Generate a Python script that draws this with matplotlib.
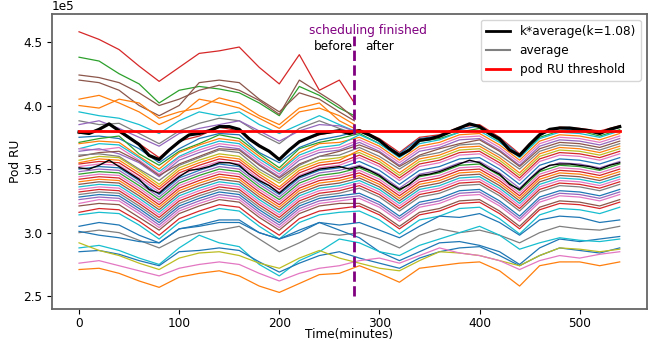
import numpy as np
import matplotlib.pyplot as plt
from matplotlib.lines import Line2D

# time axis (minutes)
t_full = list(range(0, 541, 20))
t_before = list(range(0, 261, 20)) + [275]
t_avg = list(range(0, 541, 10))

# average pod RU (x1e5), read every 10 minutes
average = [3.51, 3.50, 3.53, 3.57, 3.52, 3.47, 3.42, 3.34, 3.31, 3.38,
           3.44, 3.49, 3.50, 3.52, 3.55, 3.55, 3.53, 3.46, 3.41, 3.37,
           3.31, 3.38, 3.44, 3.47, 3.50, 3.51, 3.52, 3.50, 3.52, 3.49,
           3.45, 3.39, 3.34, 3.38, 3.45, 3.46, 3.48, 3.51, 3.54, 3.57,
           3.55, 3.50, 3.46, 3.38, 3.34, 3.42, 3.49, 3.53, 3.54, 3.54,
           3.53, 3.52, 3.50, 3.53, 3.55]
k = 1.08
threshold = 3.8

# pods that stop at the scheduling point (x1e5)
pod_u1 = [4.58, 4.52, 4.44, 4.31, 4.19, 4.30, 4.41, 4.43, 4.46, 4.30, 4.17, 4.40, 4.12, 4.20, 4.02]
pod_u2 = [4.38, 4.35, 4.25, 4.17, 4.02, 4.12, 4.15, 4.13, 4.10, 4.02, 3.92, 4.15, 4.08, 3.98, 3.92]
pod_u3 = [4.24, 4.22, 4.18, 4.10, 4.00, 4.05, 4.12, 4.16, 4.12, 4.04, 3.93, 4.20, 4.10, 4.00, 3.90]
pod_u4 = [4.20, 4.18, 4.12, 4.00, 3.92, 4.00, 4.18, 4.20, 4.18, 4.05, 3.95, 4.10, 4.05, 3.95, 3.88]
pod_u5 = [4.05, 4.08, 4.02, 3.95, 3.85, 3.92, 4.05, 4.02, 3.98, 3.90, 3.82, 3.95, 3.98, 3.92, 3.85]
pod_u6 = [4.00, 3.98, 4.05, 4.02, 3.90, 3.95, 3.98, 4.06, 4.02, 3.92, 3.85, 3.98, 4.02, 3.88, 3.82]
pod_u7 = [3.95, 3.92, 3.90, 3.85, 3.78, 3.88, 3.95, 3.92, 3.95, 3.85, 3.78, 3.85, 3.92, 3.85, 3.80]
pod_u8 = [3.88, 3.85, 3.86, 3.78, 3.70, 3.80, 3.86, 3.90, 3.88, 3.78, 3.70, 3.82, 3.88, 3.82, 3.78]
pod_u9 = [3.85, 3.88, 3.82, 3.75, 3.68, 3.78, 3.82, 3.85, 3.88, 3.80, 3.72, 3.80, 3.85, 3.84, 3.80]
upper_pods = [pod_u1, pod_u2, pod_u3, pod_u4, pod_u5, pod_u6, pod_u7, pod_u8, pod_u9]
upper_colors = ['tab:red', 'tab:green', 'tab:brown', 'tab:brown', 'tab:orange',
                'tab:orange', 'tab:cyan', 'tab:gray', 'tab:purple']

# pods running the whole time (x1e5)
pod_m01 = [3.78, 3.80, 3.79, 3.70, 3.59, 3.72, 3.76, 3.83, 3.80, 3.69, 3.58, 3.72, 3.77, 3.80,
           3.81, 3.74, 3.63, 3.75, 3.77, 3.83, 3.85, 3.75, 3.62, 3.78, 3.83, 3.82, 3.80, 3.84]
pod_m02 = [3.75, 3.76, 3.74, 3.66, 3.55, 3.66, 3.74, 3.78, 3.77, 3.63, 3.55, 3.67, 3.73, 3.76,
           3.80, 3.72, 3.62, 3.74, 3.76, 3.81, 3.84, 3.74, 3.61, 3.77, 3.82, 3.80, 3.78, 3.83]
pod_m03 = [3.71, 3.74, 3.76, 3.62, 3.53, 3.64, 3.70, 3.77, 3.74, 3.62, 3.51, 3.66, 3.71, 3.74,
           3.78, 3.70, 3.60, 3.72, 3.74, 3.79, 3.82, 3.72, 3.60, 3.75, 3.80, 3.80, 3.76, 3.81]
pod_m04 = [3.70, 3.72, 3.71, 3.60, 3.50, 3.63, 3.69, 3.74, 3.72, 3.60, 3.49, 3.63, 3.70, 3.71,
           3.75, 3.68, 3.57, 3.68, 3.71, 3.77, 3.78, 3.69, 3.57, 3.72, 3.77, 3.76, 3.73, 3.78]
pod_m05 = [3.66, 3.70, 3.69, 3.59, 3.48, 3.60, 3.67, 3.72, 3.70, 3.58, 3.48, 3.61, 3.67, 3.69,
           3.77, 3.70, 3.59, 3.70, 3.73, 3.79, 3.80, 3.71, 3.59, 3.74, 3.79, 3.78, 3.75, 3.80]
pod_m06 = [3.66, 3.65, 3.67, 3.57, 3.46, 3.59, 3.65, 3.70, 3.68, 3.56, 3.46, 3.59, 3.65, 3.67,
           3.73, 3.66, 3.55, 3.66, 3.69, 3.75, 3.76, 3.67, 3.55, 3.70, 3.75, 3.74, 3.71, 3.76]
pod_m07 = [3.64, 3.66, 3.62, 3.55, 3.44, 3.57, 3.63, 3.68, 3.66, 3.54, 3.44, 3.57, 3.63, 3.65,
           3.71, 3.64, 3.53, 3.64, 3.67, 3.73, 3.74, 3.65, 3.53, 3.68, 3.73, 3.72, 3.69, 3.74]
pod_m08 = [3.60, 3.63, 3.64, 3.56, 3.45, 3.54, 3.60, 3.66, 3.65, 3.53, 3.43, 3.54, 3.60, 3.64,
           3.69, 3.63, 3.52, 3.61, 3.66, 3.70, 3.73, 3.64, 3.52, 3.66, 3.71, 3.70, 3.67, 3.72]
pod_m09 = [3.61, 3.62, 3.60, 3.50, 3.41, 3.53, 3.59, 3.65, 3.63, 3.50, 3.41, 3.53, 3.60, 3.61,
           3.67, 3.60, 3.50, 3.60, 3.63, 3.69, 3.70, 3.61, 3.50, 3.64, 3.69, 3.68, 3.65, 3.70]
pod_m10 = [3.57, 3.60, 3.59, 3.49, 3.38, 3.51, 3.57, 3.62, 3.60, 3.48, 3.39, 3.51, 3.57, 3.59,
           3.63, 3.56, 3.45, 3.56, 3.59, 3.65, 3.66, 3.57, 3.45, 3.60, 3.65, 3.64, 3.61, 3.66]
pod_m11 = [3.55, 3.58, 3.57, 3.47, 3.36, 3.49, 3.55, 3.60, 3.58, 3.46, 3.36, 3.49, 3.55, 3.57,
           3.65, 3.58, 3.47, 3.58, 3.61, 3.67, 3.68, 3.59, 3.47, 3.62, 3.67, 3.66, 3.63, 3.68]
pod_m12 = [3.54, 3.56, 3.55, 3.45, 3.34, 3.47, 3.53, 3.58, 3.56, 3.44, 3.34, 3.47, 3.53, 3.55,
           3.61, 3.54, 3.43, 3.54, 3.57, 3.63, 3.64, 3.55, 3.43, 3.58, 3.63, 3.62, 3.59, 3.64]
pod_m13 = [3.52, 3.54, 3.53, 3.43, 3.32, 3.45, 3.51, 3.56, 3.54, 3.42, 3.32, 3.45, 3.51, 3.53,
           3.59, 3.52, 3.41, 3.52, 3.55, 3.61, 3.62, 3.53, 3.41, 3.56, 3.61, 3.60, 3.57, 3.62]
pod_m14 = [3.50, 3.52, 3.51, 3.41, 3.30, 3.43, 3.49, 3.54, 3.52, 3.40, 3.30, 3.43, 3.49, 3.51,
           3.56, 3.49, 3.38, 3.49, 3.52, 3.58, 3.59, 3.50, 3.38, 3.53, 3.58, 3.57, 3.54, 3.59]
pod_m15 = [3.48, 3.50, 3.49, 3.39, 3.28, 3.41, 3.47, 3.52, 3.50, 3.38, 3.28, 3.41, 3.47, 3.49,
           3.53, 3.46, 3.35, 3.46, 3.49, 3.55, 3.56, 3.47, 3.35, 3.50, 3.55, 3.54, 3.51, 3.56]
pod_m16 = [3.46, 3.48, 3.47, 3.37, 3.26, 3.39, 3.45, 3.50, 3.48, 3.36, 3.26, 3.39, 3.45, 3.47,
           3.51, 3.44, 3.33, 3.44, 3.47, 3.53, 3.54, 3.45, 3.33, 3.48, 3.53, 3.52, 3.49, 3.54]
pod_m17 = [3.44, 3.46, 3.45, 3.35, 3.24, 3.37, 3.43, 3.48, 3.46, 3.34, 3.24, 3.37, 3.43, 3.45,
           3.49, 3.42, 3.31, 3.42, 3.45, 3.51, 3.52, 3.43, 3.31, 3.46, 3.51, 3.50, 3.47, 3.52]
pod_m18 = [3.42, 3.44, 3.43, 3.33, 3.22, 3.35, 3.41, 3.46, 3.44, 3.32, 3.22, 3.35, 3.41, 3.43,
           3.47, 3.40, 3.29, 3.40, 3.43, 3.49, 3.50, 3.41, 3.29, 3.44, 3.49, 3.48, 3.45, 3.50]
pod_m19 = [3.40, 3.42, 3.41, 3.31, 3.20, 3.33, 3.39, 3.44, 3.42, 3.30, 3.20, 3.33, 3.39, 3.41,
           3.45, 3.38, 3.27, 3.38, 3.41, 3.47, 3.48, 3.39, 3.27, 3.42, 3.47, 3.46, 3.43, 3.48]
pod_m20 = [3.38, 3.40, 3.39, 3.29, 3.18, 3.31, 3.37, 3.42, 3.40, 3.28, 3.18, 3.31, 3.37, 3.39,
           3.43, 3.36, 3.25, 3.36, 3.39, 3.45, 3.46, 3.37, 3.25, 3.40, 3.45, 3.44, 3.41, 3.46]
pod_m21 = [3.36, 3.38, 3.37, 3.27, 3.16, 3.29, 3.35, 3.40, 3.38, 3.26, 3.16, 3.29, 3.35, 3.37,
           3.41, 3.34, 3.23, 3.34, 3.37, 3.43, 3.44, 3.35, 3.23, 3.38, 3.43, 3.42, 3.39, 3.44]
pod_m22 = [3.34, 3.36, 3.35, 3.25, 3.14, 3.27, 3.33, 3.38, 3.36, 3.24, 3.14, 3.27, 3.33, 3.35,
           3.39, 3.32, 3.21, 3.32, 3.35, 3.41, 3.42, 3.33, 3.21, 3.36, 3.41, 3.40, 3.37, 3.42]
pod_m23 = [3.32, 3.34, 3.33, 3.23, 3.12, 3.25, 3.31, 3.36, 3.34, 3.22, 3.12, 3.25, 3.31, 3.33,
           3.37, 3.30, 3.19, 3.30, 3.33, 3.39, 3.40, 3.31, 3.19, 3.34, 3.39, 3.38, 3.35, 3.40]
pod_m24 = [3.30, 3.32, 3.31, 3.21, 3.10, 3.23, 3.29, 3.34, 3.32, 3.20, 3.10, 3.23, 3.29, 3.31,
           3.35, 3.28, 3.17, 3.28, 3.31, 3.37, 3.38, 3.29, 3.17, 3.32, 3.37, 3.36, 3.33, 3.38]
pod_m25 = [3.28, 3.30, 3.29, 3.19, 3.08, 3.21, 3.27, 3.32, 3.30, 3.18, 3.08, 3.21, 3.27, 3.29,
           3.31, 3.24, 3.13, 3.24, 3.27, 3.33, 3.34, 3.25, 3.13, 3.28, 3.33, 3.32, 3.29, 3.34]
pod_m26 = [3.26, 3.28, 3.27, 3.17, 3.06, 3.19, 3.25, 3.30, 3.28, 3.16, 3.06, 3.19, 3.25, 3.27,
           3.29, 3.22, 3.11, 3.22, 3.25, 3.31, 3.32, 3.23, 3.11, 3.26, 3.31, 3.30, 3.27, 3.32]
pod_m27 = [3.23, 3.26, 3.25, 3.15, 3.04, 3.17, 3.23, 3.28, 3.26, 3.14, 3.04, 3.17, 3.23, 3.25,
           3.27, 3.20, 3.09, 3.20, 3.23, 3.29, 3.30, 3.21, 3.09, 3.24, 3.29, 3.28, 3.25, 3.30]
pod_m28 = [3.21, 3.23, 3.22, 3.12, 3.02, 3.15, 3.21, 3.26, 3.24, 3.12, 3.02, 3.15, 3.21, 3.23,
           3.23, 3.16, 3.05, 3.16, 3.19, 3.25, 3.26, 3.17, 3.05, 3.20, 3.25, 3.24, 3.21, 3.26]
pod_m29 = [3.16, 3.19, 3.18, 3.09, 2.98, 3.11, 3.17, 3.22, 3.20, 3.08, 2.98, 3.11, 3.17, 3.19,
           3.21, 3.14, 3.03, 3.14, 3.17, 3.23, 3.24, 3.15, 3.03, 3.18, 3.23, 3.22, 3.19, 3.24]
pod_m30 = [3.14, 3.16, 3.15, 3.06, 2.95, 3.08, 3.14, 3.19, 3.17, 3.05, 2.95, 3.08, 3.14, 3.16,
           3.17, 3.10, 2.99, 3.10, 3.13, 3.19, 3.20, 3.11, 2.99, 3.14, 3.19, 3.18, 3.15, 3.20]
pod_l1 = [3.05, 3.08, 3.06, 2.98, 2.92, 3.03, 3.06, 3.10, 3.10, 3.00, 2.95, 3.02, 3.08, 3.06,
          3.08, 3.02, 2.96, 3.05, 3.13, 3.12, 3.15, 3.08, 2.98, 3.10, 3.13, 3.12, 3.08, 3.10]
pod_l2 = [3.00, 3.02, 3.00, 2.94, 2.88, 2.96, 3.00, 3.02, 3.05, 2.95, 2.85, 2.92, 3.00, 2.98,
          3.00, 2.95, 2.88, 2.98, 3.03, 3.00, 3.02, 2.98, 2.92, 3.00, 3.05, 3.03, 3.02, 3.05]
pod_l3 = [3.01, 2.98, 2.96, 2.93, 2.92, 3.03, 3.05, 3.08, 3.08, 3.00, 2.95, 3.00, 3.08, 3.02,
          2.96, 2.85, 2.78, 2.85, 2.92, 2.93, 2.90, 2.85, 2.75, 2.88, 2.95, 2.93, 2.95, 2.97]
pod_l4 = [2.88, 2.90, 2.86, 2.80, 2.75, 2.88, 2.98, 2.92, 2.89, 2.75, 2.66, 2.78, 2.85, 2.95,
          2.92, 2.85, 2.82, 2.90, 2.95, 3.00, 3.05, 2.98, 2.87, 2.92, 2.96, 2.94, 2.93, 2.95]
pod_l5 = [2.85, 2.86, 2.83, 2.78, 2.74, 2.85, 2.86, 2.88, 2.86, 2.77, 2.69, 2.76, 2.82, 2.85,
          2.80, 2.76, 2.72, 2.80, 2.85, 2.88, 2.89, 2.82, 2.74, 2.82, 2.88, 2.86, 2.84, 2.88]
pod_l6 = [2.92, 2.86, 2.82, 2.76, 2.71, 2.80, 2.84, 2.85, 2.82, 2.76, 2.72, 2.80, 2.86, 2.80,
          2.76, 2.72, 2.70, 2.78, 2.85, 2.84, 2.82, 2.78, 2.74, 2.82, 2.88, 2.87, 2.85, 2.87]
pod_l7 = [2.76, 2.78, 2.74, 2.70, 2.66, 2.72, 2.75, 2.77, 2.75, 2.68, 2.62, 2.68, 2.72, 2.74,
          2.78, 2.80, 2.76, 2.82, 2.88, 2.84, 2.82, 2.78, 2.71, 2.78, 2.82, 2.80, 2.83, 2.85]
pod_l8 = [2.71, 2.72, 2.68, 2.62, 2.57, 2.65, 2.68, 2.70, 2.66, 2.58, 2.53, 2.60, 2.67, 2.68,
          2.74, 2.68, 2.61, 2.72, 2.74, 2.76, 2.77, 2.70, 2.58, 2.74, 2.77, 2.77, 2.74, 2.77]

full_pods = [pod_m01, pod_m02, pod_m03, pod_m04, pod_m05, pod_m06, pod_m07, pod_m08,
             pod_m09, pod_m10, pod_m11, pod_m12, pod_m13, pod_m14, pod_m15, pod_m16,
             pod_m17, pod_m18, pod_m19, pod_m20, pod_m21, pod_m22, pod_m23, pod_m24,
             pod_m25, pod_m26, pod_m27, pod_m28, pod_m29, pod_m30,
             pod_l1, pod_l2, pod_l3, pod_l4, pod_l5, pod_l6, pod_l7, pod_l8]
full_colors = ['tab:red', 'tab:blue', 'tab:green', 'tab:orange', 'tab:cyan', 'tab:pink',
               'tab:purple', 'tab:brown', 'tab:gray', 'tab:olive', 'tab:orange', 'tab:red',
               'tab:pink', 'tab:blue', 'tab:purple', 'tab:green', 'tab:pink', 'tab:red',
               'tab:orange', 'tab:brown', 'tab:cyan', 'tab:pink', 'tab:red', 'tab:gray',
               'tab:blue', 'tab:purple', 'tab:pink', 'tab:brown', 'tab:red', 'tab:cyan',
               'tab:blue', 'tab:gray', 'tab:blue', 'tab:cyan', 'tab:blue', 'tab:olive',
               'tab:pink', 'tab:orange']

plt.rcParams['font.size'] = 8.7
fig = plt.figure(figsize=(6.5, 3.41), dpi=100)
ax = fig.add_axes([0.08, 0.094, 0.915, 0.865])

for vals, c in zip(full_pods, full_colors):
    ax.plot(t_full, np.array(vals) * 1e5, color=c, lw=0.9)
for vals, c in zip(upper_pods, upper_colors):
    ax.plot(t_before, np.array(vals) * 1e5, color=c, lw=0.9)

avg = np.array(average) * 1e5
ax.plot(t_avg, k * avg, color='black', lw=2.3)
ax.plot(t_avg, avg, color='black', lw=1.0)
ax.plot([t_avg[0], t_avg[-1]], [threshold * 1e5] * 2, color='red', lw=2.0)

# scheduling marker
ax.vlines(275, 2.5e5, 4.55e5, colors='purple', linestyles='--', lw=2)
ax.text(289, 4.59e5, 'scheduling finished', color='purple', ha='center', va='center')
ax.text(273, 4.465e5, 'before', color='black', ha='right', va='center')
ax.text(286, 4.465e5, 'after', color='black', ha='left', va='center')

ax.set_xlim(-27, 567)
ax.set_ylim(2.40e5, 4.72e5)
ax.set_xticks([0, 100, 200, 300, 400, 500])
ax.set_yticks([2.5e5, 3.0e5, 3.5e5, 4.0e5, 4.5e5])
ax.ticklabel_format(style='sci', axis='y', scilimits=(0, 0))
ax.tick_params(axis='x', pad=2)
ax.set_xlabel('Time(minutes)', labelpad=-1)
ax.set_ylabel('Pod RU', labelpad=1)
for s in ax.spines.values():
    s.set_color('0.4')
    s.set_linewidth(1.3)

handles = [Line2D([], [], color='black', lw=2),
           Line2D([], [], color='gray', lw=1.5),
           Line2D([], [], color='red', lw=2)]
ax.legend(handles, ['k*average(k=1.08)', 'average', 'pod RU threshold'],
          loc='upper right')

fig.savefig('out.png', dpi=100)
